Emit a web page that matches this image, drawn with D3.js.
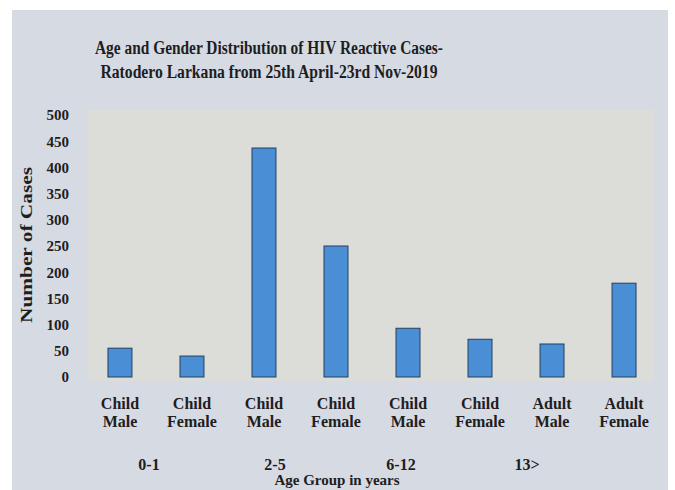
<!doctype html>
<html>
<head>
    <script src="https://d3js.org/d3.v7.min.js"></script>
    <style>
      body { margin: 0; background: #fff; }
      text { font-family: "Liberation Serif", "Times New Roman", serif; font-weight: bold; fill: #1e1e1e; }
    </style>
</head>
<body>
    <svg id="chart" width="675" height="490"></svg>
    <script>
        // data
        const categories = ["Child Male", "Child Female", "Child Male", "Child Female",
                            "Child Male", "Child Female", "Adult Male", "Adult Female"];
        const cases = [55, 40, 437, 250, 93, 72, 63, 179];
        const ageGroups = ["0-1", "2-5", "6-12", "13>"];
        const yTicks = [0, 50, 100, 150, 200, 250, 300, 350, 400, 450, 500];

        const svg = d3.select("#chart");

        // outer chart area
        svg.append("rect")
          .attr("x", 12).attr("y", 10)
          .attr("width", 656).attr("height", 480)
          .attr("fill", "#d6dae3");

        const plot = { left: 88, right: 653, top: 110, bottom: 381 };

        svg.append("rect")
          .attr("x", plot.left).attr("y", plot.top)
          .attr("width", plot.right - plot.left).attr("height", plot.bottom - plot.top)
          .attr("fill", "#dcdcd9");

        // title
        const title = svg.append("text")
          .attr("text-anchor", "middle")
          .style("font-size", "18px");
        title.append("tspan").attr("x", 269).attr("y", 54)
          .attr("textLength", 348).attr("lengthAdjust", "spacingAndGlyphs")
          .text("Age and Gender Distribution of HIV Reactive Cases-");
        title.append("tspan").attr("x", 269).attr("y", 78)
          .attr("textLength", 337).attr("lengthAdjust", "spacingAndGlyphs")
          .text("Ratodero Larkana from 25th April-23rd Nov-2019");

        // scales
        const x = d3.scaleBand()
          .domain(d3.range(cases.length))
          .range([84, 660])
          .paddingInner(0.667)
          .paddingOuter(0.333);

        const y = d3.scaleLinear()
          .domain([0, 500])
          .range([377, 115]);

        // y axis (labels only)
        const yAxis = d3.axisLeft(y).tickValues(yTicks).tickSize(0).tickPadding(0);
        const gy = svg.append("g")
          .attr("transform", "translate(69,0)")
          .call(yAxis);
        gy.select(".domain").remove();
        gy.selectAll("text")
          .style("font-size", "15px")
          .style("font-family", "'Liberation Serif', serif")
          .style("font-weight", "bold")
          .attr("fill", "#1e1e1e");

        svg.append("text")
          .attr("transform", "translate(32,245) rotate(-90)")
          .attr("text-anchor", "middle")
          .attr("textLength", 156).attr("lengthAdjust", "spacingAndGlyphs")
          .style("font-size", "17px")
          .text("Number  of Cases");

        // bars
        svg.append("g")
          .selectAll("rect")
          .data(cases)
          .join("rect")
          .attr("x", (d, i) => x(i))
          .attr("y", d => y(d))
          .attr("width", x.bandwidth())
          .attr("height", d => y(0) - y(d))
          .attr("fill", "#4a8fd6")
          .attr("stroke", "#24405f")
          .attr("stroke-width", 1);

        // category labels (two lines)
        const catLabels = svg.append("g")
          .selectAll("text")
          .data(categories)
          .join("text")
          .attr("text-anchor", "middle")
          .style("font-size", "16px");
        catLabels.append("tspan")
          .attr("x", (d, i) => x(i) + x.bandwidth() / 2)
          .attr("y", 409)
          .text(d => d.split(" ")[0]);
        catLabels.append("tspan")
          .attr("x", (d, i) => x(i) + x.bandwidth() / 2)
          .attr("y", 427)
          .text(d => d.split(" ")[1]);

        // age group labels
        const g = d3.scalePoint().domain(ageGroups).range([149, 527]);
        svg.append("g")
          .selectAll("text")
          .data(ageGroups)
          .join("text")
          .attr("x", d => g(d))
          .attr("y", 470)
          .attr("text-anchor", "middle")
          .style("font-size", "16px")
          .text(d => d);

        svg.append("text")
          .attr("x", 337).attr("y", 485)
          .attr("text-anchor", "middle")
          .style("font-size", "15px")
          .text("Age Group in years");
    </script>
</body>
</html>
